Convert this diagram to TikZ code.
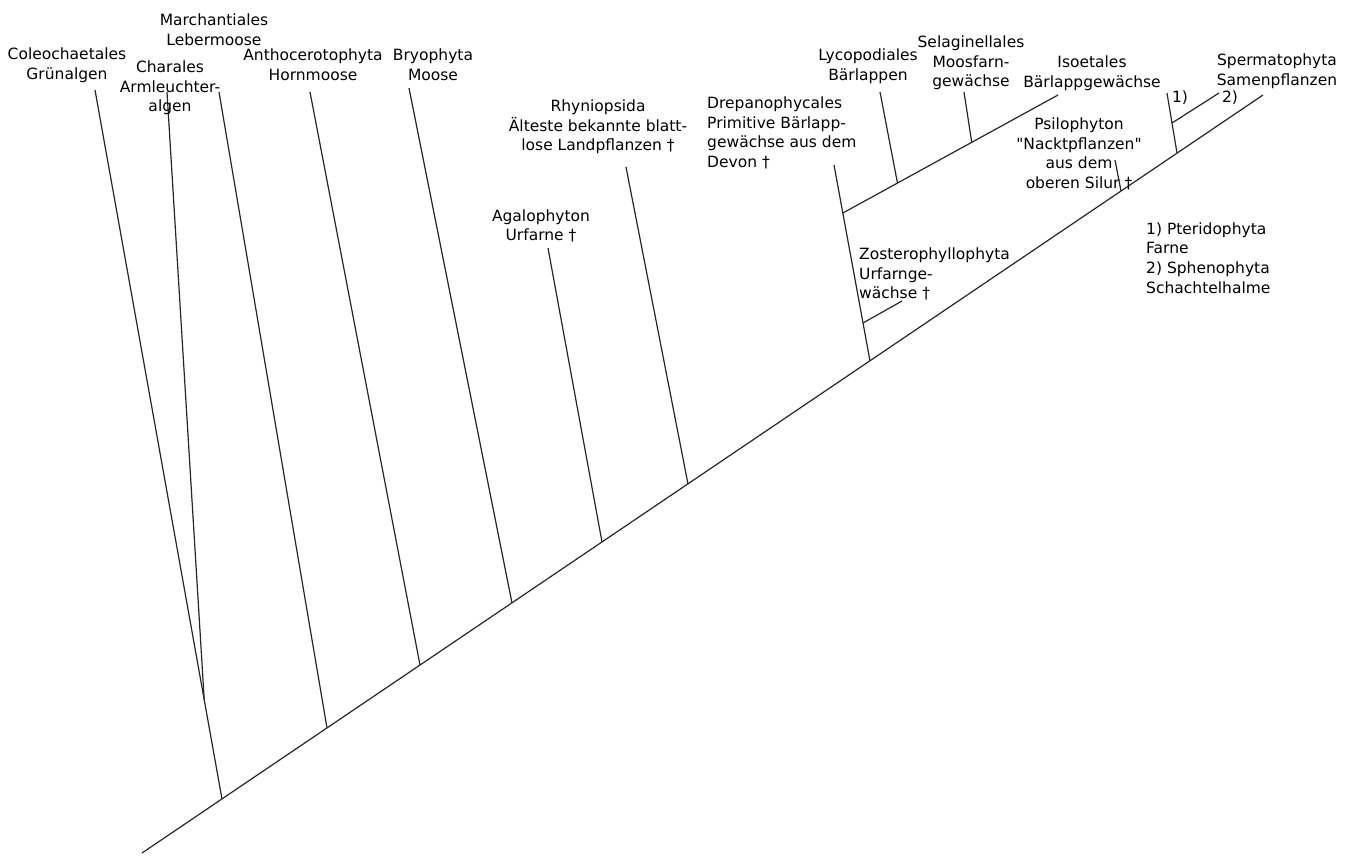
\documentclass[tikz,border=0pt]{standalone}
\usepackage{fontspec}
\setmainfont{DejaVu Sans}
\usetikzlibrary{calc}

\begin{document}
\begin{tikzpicture}[x=1pt, y=-1pt,
    taxon/.style={font=\fontsize{15.5}{19.7}\selectfont, align=center, inner sep=0pt},
    taxonleft/.style={taxon, align=left, anchor=west},
    branch/.style={line width=1.2pt, color=black!85}
]
\useasboundingbox (0,0) rectangle (1355,855);

% Trunk and its junctions
\coordinate (root) at (142,853);
\coordinate (sperm) at (1263,95);
\coordinate (j1) at (222,799);
\coordinate (j2) at (327,728);
\coordinate (j3) at (420,665);
\coordinate (j4) at (512,603);
\coordinate (j5) at (602,542);
\coordinate (j6) at (688,484);
\coordinate (j7) at (870,361);
\coordinate (j8) at (1121,191);
\coordinate (j9) at (1177,153);
\draw[branch] (root) -- (sperm);

% Branch tips
\coordinate (coleotip) at (95,90);
\coordinate (charatip) at (167,92);
\coordinate (marchtip) at (219,92);
\coordinate (anthotip) at (310,92);
\coordinate (bryotip) at (409,88);
\coordinate (agalotip) at (548,248);
\coordinate (rhyntip) at (626,167);
\coordinate (drepatip) at (834,165);
\coordinate (isoetip) at (1058,95);
\coordinate (lycotip) at (880,92);
\coordinate (selagtip) at (964,92);
\coordinate (zostertip) at (902,301);
\coordinate (psilotip) at (1115,160);
\coordinate (ptertip) at (1167,93);
\coordinate (sphentip) at (1219,93);

% Algae and mosses
\draw[branch] (coleotip) -- (j1);
\draw[branch] (charatip) -- ($(coleotip)!0.86!(j1)$);
\draw[branch] (marchtip) -- (j2);
\draw[branch] (anthotip) -- (j3);
\draw[branch] (bryotip) -- (j4);

% Early land plants
\draw[branch] (agalotip) -- (j5);
\draw[branch] (rhyntip) -- (j6);
\draw[branch] (drepatip) -- (j7);

% Lycopods
\coordinate (lyco) at ($(drepatip)!0.245!(j7)$);
\draw[branch] (lyco) -- (isoetip);
\draw[branch] (lycotip) -- ($(lyco)!0.254!(isoetip)$);
\draw[branch] (selagtip) -- ($(lyco)!0.599!(isoetip)$);
\draw[branch] ($(drepatip)!0.806!(j7)$) -- (zostertip);

% Ferns and seed plants
\draw[branch] (psilotip) -- (j8);
\draw[branch] (ptertip) -- (j9);
\draw[branch] ($(ptertip)!0.5!(j9)$) -- (sphentip);

% Labels
\node[taxon] (coleo) at (67,65) {Coleochaetales\\Grünalgen};
\node[taxon] (march) at (214,30) {Marchantiales\\Lebermoose};
\node[taxon] (chara) at (170,88) {Charales\\Armleuchter-\\algen};
\node[taxon] (antho) at (313,65) {Anthocerotophyta\\Hornmoose};
\node[taxon] (bryo) at (433,65) {Bryophyta\\Moose};
\node[taxon] (rhyn) at (598,127) {Rhyniopsida\\Älteste bekannte blatt-\\lose Landpflanzen †};
\node[taxon] (agalo) at (541,226) {Agalophyton\\Urfarne †};
\node[taxonleft] (drepa) at (707,133) {Drepanophycales\\Primitive Bärlapp-\\gewächse aus dem\\Devon †};
\node[taxon] (lycop) at (868,66) {Lycopodiales\\Bärlappen};
\node[taxon] (selag) at (971,63) {Selaginellales\\Moosfarn-\\gewächse};
\node[taxon] (isoe) at (1092,73) {Isoetales\\Bärlappgewächse};
\node[taxon] (spermlabel) at (1277,71) {Spermatophyta\\Samenpflanzen};
\node[taxon] (psilo) at (1079,154) {Psilophyton\\\textquotedbl Nacktpflanzen\textquotedbl\\aus dem\\oberen Silur †};
\node[taxonleft] (zoster) at (859,274) {Zosterophyllophyta\\Urfarnge-\\wächse †};
\node[taxonleft] (notes) at (1146,258) {1) Pteridophyta\\Farne\\2) Sphenophyta\\Schachtelhalme};
\node[taxon] (one) at (1180,98) {1)};
\node[taxon] (two) at (1230,98) {2)};

\end{tikzpicture}
\end{document}
